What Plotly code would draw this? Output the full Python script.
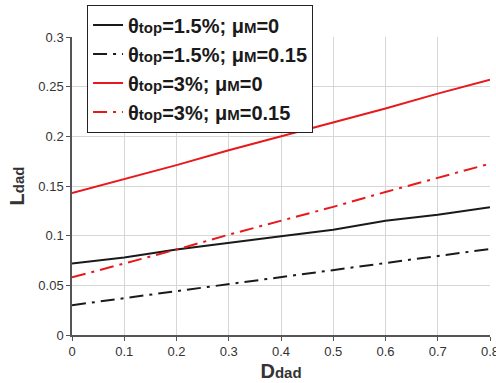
import plotly.graph_objects as go

D = [0, 0.1, 0.2, 0.3, 0.4, 0.5, 0.6, 0.7, 0.8]
L_t15_mu0 = [0.072, 0.078, 0.086, 0.093, 0.0995, 0.106, 0.115, 0.121, 0.1285]
L_t15_mu015 = [0.030, 0.037, 0.044, 0.051, 0.058, 0.065, 0.0725, 0.079, 0.0866]
L_t3_mu0 = [0.143, 0.157, 0.171, 0.186, 0.200, 0.214, 0.228, 0.243, 0.257]
L_t3_mu015 = [0.058, 0.072, 0.086, 0.101, 0.115, 0.129, 0.144, 0.158, 0.1725]
x_ticks = [0, 0.1, 0.2, 0.3, 0.4, 0.5, 0.6, 0.7, 0.8]
x_ticklabels = ["0", "0.1", "0.2", "0.3", "0.4", "0.5", "0.6", "0.7", "0.8"]
y_ticks = [0, 0.05, 0.1, 0.15, 0.2, 0.25, 0.3]
y_ticklabels = ["0", "0.05", "0.1", "0.15", "0.2", "0.25", "0.3"]

sub = "<span style='font-size:15px'>{}</span>"
names = [
    "θ" + sub.format("top") + "=1.5%; μ" + sub.format("M") + "=0",
    "θ" + sub.format("top") + "=1.5%; μ" + sub.format("M") + "=0.15",
    "θ" + sub.format("top") + "=3%; μ" + sub.format("M") + "=0",
    "θ" + sub.format("top") + "=3%; μ" + sub.format("M") + "=0.15",
]
series = [L_t15_mu0, L_t15_mu015, L_t3_mu0, L_t3_mu015]
colors = ["#1a1a1a", "#1a1a1a", "#e8191c", "#e8191c"]
dashes = ["solid", "14px,6px,3px,6px", "solid", "14px,6px,3px,6px"]

fig = go.Figure()
for n, s, c, d in zip(names, series, colors, dashes):
    fig.add_trace(go.Scatter(x=D, y=s, mode="lines", name=n,
                             line=dict(color=c, width=2, dash=d)))

axis_common = dict(showgrid=True, gridcolor="#d6d6d6", gridwidth=1,
                   showline=True, linecolor="#555555", linewidth=1.5,
                   ticks="outside", ticklen=4, tickcolor="#555555",
                   tickfont=dict(family="Liberation Sans, Arial", size=13, color="#333333"),
                   zeroline=False, mirror=False, automargin=False,
                   ticklabeloverflow="allow")

fig.update_layout(
    width=496, height=383,
    margin=dict(l=72, r=6, t=36, b=48),
    paper_bgcolor="white", plot_bgcolor="white",
    showlegend=True,
    legend=dict(x=0.036, y=1.105, xanchor="left", yanchor="top",
                bgcolor="white", bordercolor="#222222", borderwidth=1,
                font=dict(family="Liberation Sans, Arial", size=20, color="#1a1a1a", weight="bold"),
                itemwidth=30, tracegroupgap=0),
    xaxis=dict(range=[0, 0.8], tickvals=x_ticks, ticktext=x_ticklabels,
               title=dict(text="<b>D<span style='font-size:15px'>dad</span></b>",
                          font=dict(family="Liberation Sans, Arial", size=20, color="#333333"),
                          standoff=6),
               **axis_common),
    yaxis=dict(range=[0, 0.3], tickvals=y_ticks, ticktext=y_ticklabels,
               title=dict(text="<b>L<span style='font-size:15px'>dad</span></b>",
                          font=dict(family="Liberation Sans, Arial", size=20, color="#333333"),
                          standoff=8),
               **axis_common),
)

fig.write_html("out.html", config={"displayModeBar": False},
               post_script="document.body.style.margin='0';document.body.style.overflow='hidden';")
